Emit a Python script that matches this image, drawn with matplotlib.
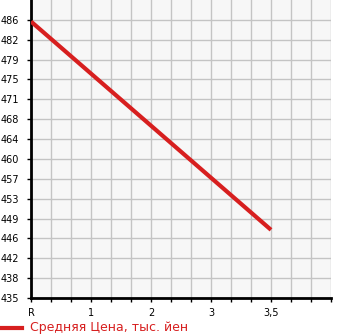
import numpy as np
import matplotlib
matplotlib.use("Agg")
import matplotlib.pyplot as plt
from matplotlib.lines import Line2D

# x categories (mileage bands) and average price, thousand yen
categories = ["R", "1", "2", "3", "3,5"]
point_cats = ["R", "3,5"]
prices = [485.7, 447.5]

y_min = 435.0
y_step = 51.0 / 14
y_labels = ["435", "438", "442", "446", "449", "453", "457", "460",
            "464", "468", "471", "475", "479", "482", "486"]

RED = "#d71f1f"

fig = plt.figure(figsize=(3.45, 3.35), dpi=100)
ax = fig.add_axes([31 / 345, 37 / 335, 300 / 345, 298 / 335])
ax.set_facecolor("#f7f7f7")

xs = [categories.index(c) for c in point_cats]
ax.plot(xs, prices, color=RED, lw=3.0, solid_capstyle="butt", zorder=3)

ax.set_xlim(0, 5)
ax.set_ylim(y_min, y_min + 15 * y_step)

ax.set_xticks(np.arange(0, 5.01, 1 / 3), minor=True)
ax.set_xticks(range(len(categories)))
ax.set_xticklabels(categories)
yt = [y_min + i * y_step for i in range(len(y_labels))]
ax.set_yticks(yt)
ax.set_yticklabels(y_labels)

ax.grid(True, which="both", color="#c4c4c4", lw=1.0, zorder=0)
ax.set_axisbelow(True)
for s in ("top", "right"):
    ax.spines[s].set_visible(False)
for s in ("left", "bottom"):
    ax.spines[s].set_linewidth(2.0)
    ax.spines[s].set_color("black")

ax.tick_params(axis="both", which="both", length=3, width=1, labelsize=7, color="black")
ax.tick_params(axis="y", pad=5.5)
ax.tick_params(axis="x", pad=4)

fig.lines.append(Line2D([0, 22 / 345], [7 / 335, 7 / 335], transform=fig.transFigure,
                        color=RED, lw=3.0))
fig.text(30 / 345, 7 / 335, "Средняя Цена, тыс. йен", color=RED, fontsize=9,
         va="center", ha="left")

fig.savefig("out.png", dpi=100)
